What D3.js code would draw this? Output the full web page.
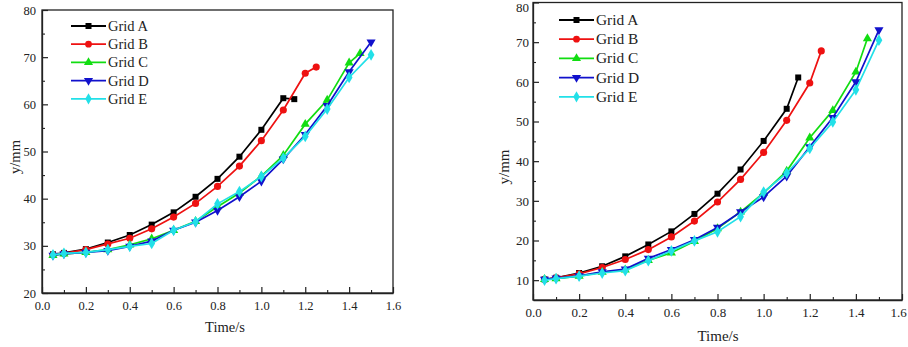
<!DOCTYPE html>
<html><head><meta charset="utf-8">
<script src="https://cdn.jsdelivr.net/npm/d3@7"></script>
<style>html,body{margin:0;padding:0;background:#fff;}svg{display:block;font-family:"Liberation Serif","Times New Roman",serif;}</style>
</head><body>
<svg id="chart" width="908" height="347"></svg>
<script>
// ---- data ----
const seriesNames = ["Grid A","Grid B","Grid C","Grid D","Grid E"];
const seriesColors = ["#000000","#ee1111","#11dd11","#1111cc","#22e0e8"];
const seriesMarkers = ["square","circle","triangle","triangleDown","diamond"];

const timeA = [0.05,0.1,0.2,0.3,0.4,0.5,0.6,0.7,0.8,0.9,1.0,1.1,1.15];
const timeB = [0.05,0.1,0.2,0.3,0.4,0.5,0.6,0.7,0.8,0.9,1.0,1.1,1.2,1.25];
const timeC = [0.05,0.1,0.2,0.3,0.4,0.5,0.6,0.7,0.8,0.9,1.0,1.1,1.2,1.3,1.4,1.45];
const timeDE = [0.05,0.1,0.2,0.3,0.4,0.5,0.6,0.7,0.8,0.9,1.0,1.1,1.2,1.3,1.4,1.5];

// left panel values (y/mm)
const leftA = [28.2,28.5,29.3,30.7,32.3,34.5,37.1,40.4,44.2,48.9,54.6,61.3,61.1];
const leftB = [28.1,28.4,29.2,30.4,31.6,33.6,36.1,39.0,42.6,46.9,52.3,58.8,66.6,67.9];
const leftC = [28.0,28.3,28.6,29.2,30.2,31.5,33.3,35.2,38.3,41.2,44.8,49.2,55.8,60.9,68.8,70.8];
const leftD = [28.0,28.3,28.6,29.0,29.9,31.0,33.3,35.0,37.5,40.4,43.7,48.4,53.6,59.7,66.9,73.2];
const leftE = [28.1,28.4,28.6,29.2,29.9,30.5,33.3,35.1,38.9,41.5,44.7,48.6,53.2,59.0,65.7,70.5];

// right panel values (y/mm)
const rightA = [10.2,10.6,11.8,13.5,16.0,19.0,22.3,26.7,31.8,37.9,45.1,53.2,61.1];
const rightB = [10.2,10.6,11.6,13.2,15.2,17.7,20.9,24.9,29.7,35.4,42.2,50.3,59.7,67.8];
const rightC = [10.2,10.4,11.0,12.0,12.6,15.0,16.9,19.8,23.0,27.2,32.0,37.5,45.9,52.8,62.5,70.9];
const rightD = [10.2,10.5,11.1,12.1,12.8,15.5,17.7,20.2,23.3,27.2,31.0,36.2,43.6,51.0,60.0,73.1];
const rightE = [10.0,10.4,11.0,11.8,12.4,14.9,17.4,19.9,22.2,26.0,32.2,37.0,43.2,49.9,58.0,70.5];

const xTicks = [0.0,0.2,0.4,0.6,0.8,1.0,1.2,1.4,1.6];
const leftYTicks = [20,30,40,50,60,70,80];
const rightYTicks = [10,20,30,40,50,60,70,80];
const xTitle = "Time/s";
const yTitle = "y/mm";

// ---- drawing ----
const svg = d3.select("#chart");

function markerPath(type, size){
  const map = {square:d3.symbolSquare,circle:d3.symbolCircle,triangle:d3.symbolTriangle,triangleDown:d3.symbolTriangle,diamond:d3.symbolDiamond};
  return d3.symbol().type(map[type]).size(size)();
}

function panel(cfg){
  const g = svg.append("g");
  const x = d3.scaleLinear().domain([0,1.6]).range([cfg.left,cfg.right]);
  const y = d3.scaleLinear().domain(cfg.yDomain).range([cfg.bottom,cfg.top]);

  // frame
  g.append("rect").attr("x",cfg.left).attr("y",cfg.top)
    .attr("width",cfg.right-cfg.left).attr("height",cfg.bottom-cfg.top)
    .attr("fill","none").attr("stroke","#222").attr("stroke-width",1.3);

  // x axis (ticks inside)
  const xa = g.append("g").attr("transform",`translate(0,${cfg.bottom})`)
    .call(d3.axisBottom(x).tickValues(xTicks).tickFormat(d3.format(".1f")).tickSizeInner(-6).tickSizeOuter(0).tickPadding(cfg.xPad));
  xa.select(".domain").attr("stroke","#222").attr("stroke-width",1.3);
  xa.selectAll(".tick line").attr("stroke","#222").attr("stroke-width",1.2);
  xa.selectAll("text").attr("font-size",cfg.tickFont).attr("fill","#222").attr("font-family","Liberation Serif")
    .attr("dx",d=> (cfg.clampLastX && d===1.6) ? -4 : 0);
  const xm = g.append("g").attr("transform",`translate(0,${cfg.bottom})`)
    .call(d3.axisBottom(x).tickValues(d3.range(0.1,1.6,0.2)).tickSizeInner(-3).tickSizeOuter(0).tickFormat(""));
  xm.select(".domain").remove();
  xm.selectAll(".tick line").attr("stroke","#222").attr("stroke-width",1.1);

  // y axis
  const ya = g.append("g").attr("transform",`translate(${cfg.left},0)`)
    .call(d3.axisLeft(y).tickValues(cfg.yTicks).tickSizeInner(-6).tickSizeOuter(0).tickPadding(cfg.yPad));
  ya.select(".domain").attr("stroke","#222").attr("stroke-width",1.3);
  ya.selectAll(".tick line").attr("stroke","#222").attr("stroke-width",1.2);
  ya.selectAll("text").attr("font-size",cfg.tickFont).attr("fill","#222").attr("font-family","Liberation Serif")
    .attr("dy",d=> (cfg.clampTopY && d===80) ? "0.72em" : "0.32em");
  const ym = g.append("g").attr("transform",`translate(${cfg.left},0)`)
    .call(d3.axisLeft(y).tickValues(cfg.yTicks.slice(0,-1).map(v=>v+5)).tickSizeInner(-3).tickSizeOuter(0).tickFormat(""));
  ym.select(".domain").remove();
  ym.selectAll(".tick line").attr("stroke","#222").attr("stroke-width",1.1);

  // titles
  g.append("text").attr("x",cfg.xTitleX).attr("y",cfg.xTitleY).attr("text-anchor","middle")
    .attr("font-size",cfg.titleFont).attr("fill","#222").text(xTitle);
  g.append("text").attr("transform",`translate(${cfg.yTitleX},${cfg.yTitleY}) rotate(-90)`)
    .attr("text-anchor","middle").attr("font-size",cfg.titleFont).attr("fill","#222").text(yTitle);

  // series
  const line = d3.line().x(d=>x(d[0])).y(d=>y(d[1]));
  cfg.series.forEach((s,i)=>{
    const pts = s.t.map((t,k)=>[t,s.v[k]]);
    g.append("path").datum(pts).attr("d",line).attr("fill","none")
      .attr("stroke",seriesColors[i]).attr("stroke-width",1.7);
    const m = markerPath(seriesMarkers[i], seriesMarkers[i]==="circle"?40:(seriesMarkers[i]==="diamond"?40:36));
    g.selectAll(null).data(pts).enter().append("path").attr("d",m)
      .attr("transform",d=>`translate(${x(d[0])},${y(d[1])})${seriesMarkers[i]==="triangleDown"?" rotate(180)":""}`)
      .attr("fill",seriesColors[i]);
  });

  // legend
  seriesNames.forEach((n,i)=>{
    const ly = cfg.legY + i*cfg.legStep;
    g.append("line").attr("x1",cfg.legX).attr("x2",cfg.legX+35).attr("y1",ly).attr("y2",ly)
      .attr("stroke",seriesColors[i]).attr("stroke-width",1.8);
    const m = markerPath(seriesMarkers[i], 36);
    g.append("path").attr("d",m)
      .attr("transform",`translate(${cfg.legX+17.5},${ly})${seriesMarkers[i]==="triangleDown"?" rotate(180)":""}`)
      .attr("fill",seriesColors[i]);
    g.append("text").attr("x",cfg.legX+37).attr("y",ly+5).attr("font-size",cfg.legFont)
      .attr("fill","#222").text(n);
  });
}

panel({
  left:42, right:393, top:10, bottom:293, yDomain:[20,80], yTicks:leftYTicks,
  tickFont:12.5, titleFont:14.5, legFont:14.5, xPad:8, yPad:6,
  xTitleX:225, xTitleY:332, yTitleX:20, yTitleY:157,
  legX:71, legY:26, legStep:18.2,
  series:[{t:timeA,v:leftA},{t:timeB,v:leftB},{t:timeC,v:leftC},{t:timeDE,v:leftD},{t:timeDE,v:leftE}]
});
panel({
  left:533, right:902, top:2.5, bottom:300, yDomain:[5,80], yTicks:rightYTicks,
  tickFont:13, titleFont:15, legFont:15.4, xPad:8, yPad:4, clampLastX:true, clampTopY:true,
  xTitleX:718, xTitleY:341, yTitleX:509, yTitleY:167,
  legX:559, legY:20, legStep:19.2,
  series:[{t:timeA,v:rightA},{t:timeB,v:rightB},{t:timeC,v:rightC},{t:timeDE,v:rightD},{t:timeDE,v:rightE}]
});
</script>
</body></html>
